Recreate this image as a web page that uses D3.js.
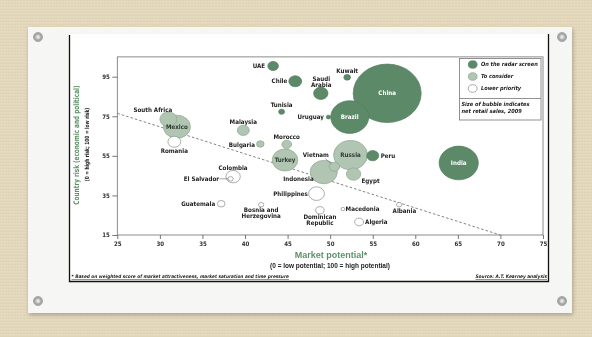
<!DOCTYPE html>
<html><head><meta charset="utf-8">
<script src="https://cdn.jsdelivr.net/npm/d3@7"></script>
<style>
html,body{margin:0;padding:0;background:#e4d8bc;}
svg{display:block;will-change:transform;}
.lbl{font-family:'Liberation Sans Narrow','DejaVu Sans Condensed','Arial Narrow',sans-serif;font-weight:bold;}
</style></head>
<body>
<svg id="c" width="592" height="337"></svg>
<script>
// ---------------- data ----------------
const countries = ["UAE","Chile","Saudi Arabia","Kuwait","China","Tunisia","Uruguay","Brazil",
  "South Africa","Mexico","Romania","Malaysia","Bulgaria","Morocco","Turkey","Vietnam","Russia","Peru",
  "Indonesia","Egypt","India","Colombia","El Salvador","Philippines","Guatemala",
  "Bosnia and Herzegovina","Dominican Republic","Macedonia","Albania","Algeria"];
const marketPotential = [43.3,45.9,48.9,52.0,56.7,44.3,49.8,52.3,
  31.0,32.0,31.7,39.8,41.8,44.9,44.7,50.5,52.4,55.0,
  49.25,52.75,65.1,38.6,38.3,48.4,37.2,
  41.9,48.8,51.5,58.1,53.4];
const countryRisk = [100.4,92.7,86.6,94.7,86.6,77.3,74.6,74.6,
  73.5,69.7,62.1,67.9,61.0,60.8,52.9,49.5,55.4,55.1,
  46.8,45.8,51.4,44.5,43.4,35.9,30.8,
  30.3,27.5,28.1,30.3,21.6];
const retailSales = [45,66,83,18,1850,14,8,578,
  116,292,66,58,23,38,262,45,462,58,
  296,83,615,83,11,100,23,
  11,28,6,11,32];
const priority = ["radar","radar","radar","radar","radar","radar","radar","radar",
  "consider","consider","lower","consider","consider","consider","consider","consider","consider","radar",
  "consider","consider","radar","lower","lower","lower","lower",
  "lower","lower","lower","lower","lower"];
const legendLabels = ["On the radar screen","To consider","Lower priority"];
const legendKeys = ["radar","consider","lower"];
const xTicks = [25,30,35,40,45,50,55,60,65,70,75];
const yTicks = [15,35,55,75,95];
const trendLine = [[25,76.5],[70,15]];

// ---------------- label placement (px offsets) ----------------
const labelPos = {
  "UAE":{dx:-8,dy:0,a:"end"},
  "Chile":{dx:-8,dy:0,a:"end"},
  "Saudi Arabia":{dx:0.5,dy:-14.8,a:"middle",lines:["Saudi","Arabia"]},
  "Kuwait":{dx:0,dy:-6.8,a:"middle"},
  "China":{dx:0,dy:0,a:"middle",inside:true},
  "Tunisia":{dx:0,dy:-6.8,a:"middle"},
  "Uruguay":{dx:-4.5,dy:0,a:"end"},
  "Brazil":{dx:0,dy:0,a:"middle",inside:true},
  "South Africa":{dx:-15.5,dy:-9.5,a:"middle"},
  "Mexico":{dx:0,dy:0,a:"middle",inside:true},
  "Romania":{dx:0,dy:9,a:"middle"},
  "Malaysia":{dx:0,dy:-8.6,a:"middle"},
  "Bulgaria":{dx:-5.3,dy:0.5,a:"end"},
  "Morocco":{dx:0,dy:-7.6,a:"middle"},
  "Turkey":{dx:0,dy:0,a:"middle",inside:true},
  "Vietnam":{dx:-18.5,dy:-11.7,a:"middle",leader:[[-9,-8],[-3,-3]]},
  "Russia":{dx:0,dy:0,a:"middle",inside:true},
  "Peru":{dx:8,dy:0.5,a:"start"},
  "Indonesia":{dx:-10,dy:6.3,a:"end"},
  "Egypt":{dx:8,dy:6.3,a:"start"},
  "India":{dx:0,dy:0,a:"middle",inside:true},
  "Colombia":{dx:0,dy:-9,a:"middle"},
  "El Salvador":{dx:-11.5,dy:0,a:"end",leader:[[-11,0],[-2.5,0]]},
  "Philippines":{dx:-8.6,dy:0,a:"end"},
  "Guatemala":{dx:-6,dy:0,a:"end"},
  "Bosnia and Herzegovina":{dx:0,dy:5.4,a:"middle",lines:["Bosnia and","Herzegovina"]},
  "Dominican Republic":{dx:0,dy:6.6,a:"middle",lines:["Dominican","Republic"]},
  "Macedonia":{dx:2.7,dy:0,a:"start"},
  "Albania":{dx:5.3,dy:6,a:"middle"},
  "Algeria":{dx:6,dy:0,a:"start"}
};

const fillC = {radar:"#5c8968",consider:"#b0c5b2",lower:"#ffffff"};
const strokeC = {radar:"#547f5e",consider:"#8ea690",lower:"#8a8a8a"};
const green = "#5d9266";
const RY = 0.86;
const FS = 6.2, LH = 6.1;

const root = d3.select("#c");
const defs = root.append("defs");
const f = defs.append("filter").attr("id","sh").attr("x","-5%").attr("y","-5%").attr("width","110%").attr("height","115%");
f.append("feDropShadow").attr("dx",1).attr("dy",2).attr("stdDeviation",2).attr("flood-color","#000").attr("flood-opacity",0.25);
const pg = defs.append("radialGradient").attr("id","pin");
pg.append("stop").attr("offset","0%").attr("stop-color","#f2f2f2");
pg.append("stop").attr("offset","45%").attr("stop-color","#c9c9c9");
pg.append("stop").attr("offset","70%").attr("stop-color","#9a9a9a");
pg.append("stop").attr("offset","100%").attr("stop-color","#bdbdbd");
// canvas texture (subtle)
const pat = defs.append("pattern").attr("id","canvas").attr("width",3).attr("height",3).attr("patternUnits","userSpaceOnUse");
pat.append("rect").attr("width",3).attr("height",3).attr("fill","#e4d8bc");
pat.append("rect").attr("x",0).attr("y",0).attr("width",3).attr("height",1).attr("fill","#dccfb1").attr("opacity",0.45);
pat.append("rect").attr("x",1).attr("y",1).attr("width",1).attr("height",1).attr("fill","#ece2cb").attr("opacity",0.6);

const svg = root.append("g").attr("opacity",0.999);

// background
svg.append("rect").attr("width",592).attr("height",337).attr("fill","url(#canvas)");
// card
svg.append("rect").attr("x",28).attr("y",27).attr("width",544).attr("height",286).attr("fill","#f6f6f5").attr("filter","url(#sh)");
// chart paper
svg.append("rect").attr("x",69).attr("y",34).attr("width",480).attr("height",247).attr("fill","#ffffff");
svg.append("path").attr("d","M69.5,35V281.5H548.5V34").attr("fill","none").attr("stroke","#111").attr("stroke-width",1.3);

// pins
[[38,37],[562,37],[38,301],[562,301]].forEach(p=>{
  svg.append("circle").attr("cx",p[0]).attr("cy",p[1]).attr("r",4.6).attr("fill","url(#pin)").attr("stroke","#8d8d8d").attr("stroke-width",0.6);
});

// scales
const x = d3.scaleLinear().domain([25,75]).range([117.3,543]);
const y = d3.scaleLinear().domain([15,105]).range([235,56.9]);
const r = d3.scaleSqrt().domain([0,d3.max(retailSales)]).range([0,34]);

// frame
svg.append("rect").attr("x",x(25)).attr("y",y(105)).attr("width",x(75)-x(25)).attr("height",y(15)-y(105))
  .attr("fill","none").attr("stroke","#6f6f6f").attr("stroke-width",0.8);

// axes
const ax = svg.append("g").attr("transform",`translate(0,${y(15)})`)
  .call(d3.axisBottom(x).tickValues(xTicks).tickSize(4).tickPadding(2.5));
const ay = svg.append("g").attr("transform",`translate(${x(25)},0)`)
  .call(d3.axisLeft(y).tickValues(yTicks).tickSize(5).tickPadding(2.5));
[ax,ay].forEach(g=>{
  g.select(".domain").remove();
  g.selectAll(".tick line").attr("stroke","#555").attr("stroke-width",0.8);
  g.selectAll(".tick text").attr("class","lbl").attr("font-size",6.1).attr("fill","#333");
});

// trend line
svg.append("line").attr("x1",x(trendLine[0][0])).attr("y1",y(trendLine[0][1]))
  .attr("x2",x(trendLine[1][0])).attr("y2",y(trendLine[1][1]))
  .attr("stroke","#666").attr("stroke-width",0.8).attr("stroke-dasharray","2.6,2");

// bubbles
const data = countries.map((c,i)=>({c, x:marketPotential[i], y:countryRisk[i], s:retailSales[i], p:priority[i]}));
const order = data.slice().sort((a,b)=>b.s-a.s);
svg.append("g").selectAll("ellipse").data(order).join("ellipse")
  .attr("cx",d=>x(d.x)).attr("cy",d=>y(d.y))
  .attr("rx",d=>r(d.s)).attr("ry",d=>r(d.s)*RY)
  .attr("fill",d=>fillC[d.p]).attr("stroke",d=>strokeC[d.p]).attr("stroke-width",0.7);

// labels
const lg = svg.append("g");
data.forEach(d=>{
  const L = labelPos[d.c];
  const cx = x(d.x), cy = y(d.y);
  if (L.leader) {
    lg.append("line").attr("x1",cx+L.leader[0][0]).attr("y1",cy+L.leader[0][1])
      .attr("x2",cx+L.leader[1][0]).attr("y2",cy+L.leader[1][1]).attr("stroke","#666").attr("stroke-width",0.6);
  }
  const lines = L.lines || [d.c];
  lines.forEach((t,k)=>{
    lg.append("text").attr("class","lbl")
      .attr("x",cx+L.dx).attr("y",cy+L.dy+k*LH).attr("dy","0.35em")
      .attr("text-anchor",L.a).attr("font-size",FS)
      .attr("fill", L.inside ? (d.p==="radar" ? "#ffffff" : "#2f3a31") : "#222")
      .text(t);
  });
});

// legend
const lgd = svg.append("g");
lgd.append("rect").attr("x",459.5).attr("y",58.5).attr("width",81.5).attr("height",61.5).attr("fill","#fff").attr("stroke","#777").attr("stroke-width",0.8);
lgd.append("line").attr("x1",459.5).attr("x2",541).attr("y1",98.5).attr("y2",98.5).attr("stroke","#777").attr("stroke-width",0.8);
legendKeys.forEach((k,i)=>{
  const yy = 64.5 + i*12;
  lgd.append("ellipse").attr("cx",472.7).attr("cy",yy).attr("rx",4.4).attr("ry",4.4*RY)
    .attr("fill",fillC[k]).attr("stroke",strokeC[k]).attr("stroke-width",0.7);
  lgd.append("text").attr("class","lbl").attr("x",481).attr("y",yy).attr("dy","0.35em")
    .attr("font-size",5.6).attr("font-style","italic").attr("font-weight","normal").attr("fill","#222").text(legendLabels[i]);
});
["Size of bubble indicates","net retail sales, 2009"].forEach((t,i)=>{
  lgd.append("text").attr("class","lbl").attr("x",461.5).attr("y",104.5+i*7).attr("dy","0.35em")
    .attr("font-size",5.6).attr("font-style","italic").attr("font-weight","normal").attr("fill","#222").text(t);
});

// axis titles
svg.append("text").attr("x",331).attr("y",258).attr("text-anchor","middle")
  .attr("font-family","'Liberation Sans',Arial,sans-serif").attr("font-weight","bold").attr("font-size",9).attr("fill",green)
  .text("Market potential*");
svg.append("text").attr("x",330).attr("y",268.3).attr("text-anchor","middle")
  .attr("font-family","'Liberation Sans',Arial,sans-serif").attr("font-weight","bold").attr("font-size",6.5).attr("fill","#222")
  .text("(0 = low potential; 100 = high potential)");
svg.append("text").attr("class","lbl").attr("transform","translate(78.5,145) rotate(-90) scale(0.84,1)").attr("text-anchor","middle")
  .attr("font-size",7.6).attr("fill",green).text("Country risk (economic and political)");
svg.append("text").attr("class","lbl").attr("transform","translate(89,144.5) rotate(-90) scale(0.84,1)").attr("text-anchor","middle")
  .attr("font-size",5.8).attr("fill","#222").text("(0 = high risk; 100 = low risk)");

// footnotes
svg.append("text").attr("class","lbl").attr("x",71.5).attr("y",278).attr("font-size",4.75).attr("font-style","italic").attr("font-weight","normal")
  .attr("text-decoration","underline").attr("fill","#222")
  .text("* Based on weighted score of market attractiveness, market saturation and time pressure");
svg.append("text").attr("class","lbl").attr("x",547).attr("y",278).attr("text-anchor","end").attr("font-size",4.8).attr("font-style","italic").attr("font-weight","normal")
  .attr("text-decoration","underline").attr("fill","#222")
  .text("Source: A.T. Kearney analysis");
</script>
</body></html>
